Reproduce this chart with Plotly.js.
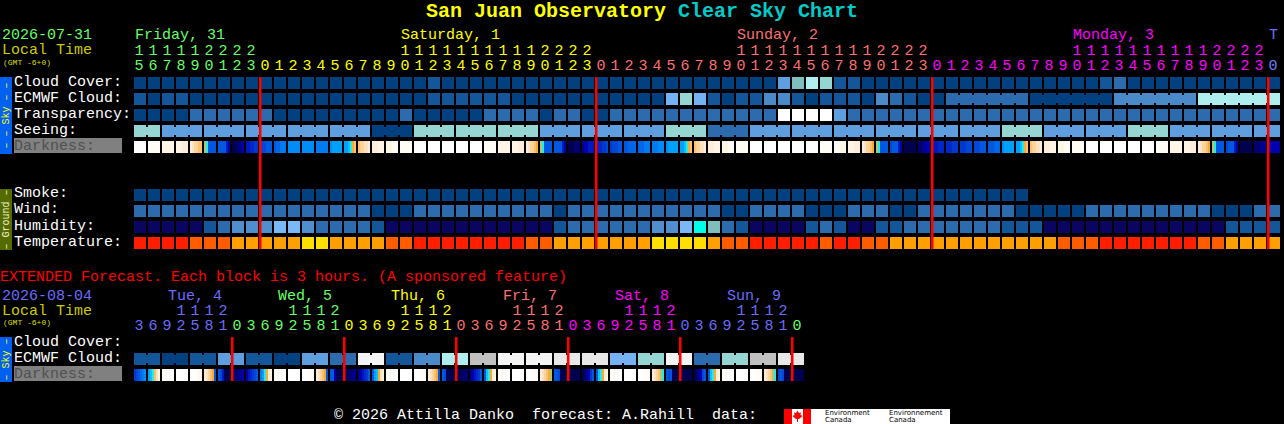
<!DOCTYPE html>
<html><head><meta charset="utf-8">
<script src="https://cdn.plot.ly/plotly-3.0.1.min.js"></script>
<style>html,body{margin:0;padding:0;background:#000;overflow:hidden}#chart{width:1284px;height:424px}</style>
</head><body><div id="chart"></div>
<script>
// ---- categories
const hours = [15,16,17,18,19,20,21,22,23,
  0,1,2,3,4,5,6,7,8,9,10,11,12,13,14,15,16,17,18,19,20,21,22,23,
  0,1,2,3,4,5,6,7,8,9,10,11,12,13,14,15,16,17,18,19,20,21,22,23,
  0,1,2,3,4,5,6,7,8,9,10,11,12,13,14,15,16,17,18,19,20,21,22,23,
  0];
const hourDayColor = [[9,'#66ff66'],[24,'#ffff00'],[24,'#ff7070'],[24,'#ff00ff'],[1,'#6c80ff']];
const extHours = [3,6,9,12,15,18,21,
  0,3,6,9,12,15,18,21, 0,3,6,9,12,15,18,21, 0,3,6,9,12,15,18,21,
  0,3,6,9,12,15,18,21, 0,3,6,9,12,15,18,21, 0];
const extDayColor = [[7,'#6c6cff'],[8,'#66ff66'],[8,'#ffff00'],[8,'#ff7070'],[8,'#ff00ff'],[8,'#6c6cff'],[1,'#66ff66']];
const midnights = [9,33,57,81];
const extMidnights = [7,15,23,31,39,47];

// ---- palettes
const skyColors = ['#03407f','#13569a','#2c6bad','#4a8ac9','#5f9fe0','#74b2f4','#80bdbd','#95d5d2','#aeeeee','#c0c0c0','#e8e8e8','#ffffff','#f4f4f4'];
const humidColors = ['#0a0560','#13569a','#2c6bad','#4f8fd0','#7ab8f8','#00ffe8','#80bdbd'];
const tempColors = ['#ff1e00','#ff5c00','#ffa000','#ffdf00'];
const darkColors = {W:'#ffffff',V:'#fffcf6',U:'#fff5e6',T:'#ffedd6',S:'#ffe3be',R:'#ffd49c',Q:'#ffc070',P:'#ffa830',
  G:'#a8c878',C:'#30e8e0',D:'#00c4ff',E:'#00a0ff',F:'#008cf8',H:'#007cf0',I:'#0068e8',J:'#0058e0',K:'#0048d8',
  L:'#0038d0',M:'#0028c8',N:'#0018c0',O:'#0000b0',X:'#000090',Y:'#000070',Z:'#000050'};

// ---- series values (one per hour column)
const cloudCover = [0,0,0,0,0,0,0,0,0,0, 0,0,0,0,0,0,0,0,0,0, 0,1,0,0,0,0,0,0,0,0, 0,0,0,0,0,0,0,0,0,0,
  0,0,0,0,0,0,4,6,8,7, 1,1,0,0,0,0,0,0,0,0, 0,0,0,0,0,0,0,0,0,1, 2,0,0,0,0,0,0,0,0,0,0,0];
const ecmwfCloud = [1,0,1,1,0,0,0,0,0,0, 0,0,0,0,0,0,0,0,0,0, 0,1,1,1,1,1,1,0,0,0, 0,0,0,0,0,0,0,0,5,7,
  5,1,0,1,1,3,3,1,0,1, 1,1,0,3,2,1,0,0,2,2, 2,2,2,2,0,0,0,0,0,0, 3,3,3,3,3,3,8,8,8,8,8,8];
const ecmwfBlocks = [[58,6],[64,6],[70,6],[76,6]];
const transparency = [0,0,0,0,2,2,2,2,2,2, 0,0,0,0,0,0,0,0,0,2, 0,0,0,0,0,2,2,2,2,0, 2,2,0,0,2,2,2,2,2,2,
  2,2,2,2,2,2,11,11,11,11, 4,2,2,2,2,2,2,2,2,2, 2,2,2,2,2,2,2,2,2,2, 2,2,2,2,2,2,2,2,2,2,2,2];
const seeingLengths = [2,3,3,3,3,3,3,3,3,3,3,3,3,3,3,3,3,3,3,3,3,3,3,3,3,3,3,2];
const seeing = [7,4,4,4,4,4,0,7,7,7,4,4,4,7,2,4,4,4,4,4,4,7,4,4,7,4,4,4];
const darkness = ['W','V','U','UUTT','TSRRQQ','GCJJJJ','JJJJNO','ZZYYXO','NNMMLL','KKKJJJ',
  'JIIHHH','F','F','H','FEEEEE','EEDCPQ','QRRSST','TU','UV','V',
  'W','W','W','W','W','V','U','UT','TSRRQP','GCJJJJ',
  'JJJJNO','ZZZYYY','XOONNN','NMMLLK','LKKKJJ','JJIIII','IH','HF','FEEEEE','EEDCPQ',
  'QRRSST','TU','UV','V','W','W','W','W','W','V',
  'VU','UT','TSRRQP','GCJJJJ','KJJJNO','Z','YYXXOO','NNNMMM','ML','LK',
  'KJ','JI','FEEEEE','EEDCPQ','QRRSST','TU','UV','V','W','W',
  'W','W','W','V','U','UT','TSRRQP','GCJJJJ','KJJJNO','Z','YYYXXX','O'];
const smoke = [0,0,0,0,0,0,0,0,0,0, 0,0,0,0,0,0,0,0,0,0, 0,0,0,0,0,0,0,0,0,0, 0,0,0,0,0,0,0,0,0,0,
  0,0,0,0,0,0,0,0,0,0, 0,0,0,0,0,0,0,0,0,0, 0,0,0,0];
const wind = [2,2,2,2,2,2,2,2,2,2, 2,2,2,2,2,2,2,0,0,0, 2,2,2,2,2,2,2,2,2,2, 0,2,2,2,2,2,2,2,2,2,
  2,2,0,0,2,2,2,2,0,0, 0,2,2,2,0,0,2,2,2,2, 2,2,2,0,0,0,0,0,2,2, 2,2,2,2,2,2,2,0,0,0,2,2];
const humidity = [0,0,0,0,0,1,2,3,3,3, 4,4,3,2,2,2,2,1,0,0, 0,0,0,0,0,0,0,0,0,0, 1,2,2,2,2,2,2,3,3,4,
  5,6,2,1,0,0,0,0,1,2, 1,0,0,1,1,2,2,2,2,2, 2,2,1,1,1,0,0,0,0,0, 0,0,0,0,0,0,0,0,1,1,1,1];
const temperature = [0,0,0,0,1,1,1,2,2,2, 2,2,3,3,2,2,2,2,1,1, 0,0,0,0,0,0,0,0,1,1, 2,2,2,2,2,2,2,3,3,3,
  3,2,1,1,0,0,0,0,0,1, 0,0,1,1,2,2,2,2,2,2, 2,2,2,2,2,2,1,1,1,0, 0,0,0,0,0,0,1,1,2,2,2,2];

// ---- extended forecast (one value per 6-hour pair / per 3-hour column)
const extEcmwf = [1,0,1,4,1,0,4,2,12,1,3,8,9,12,12,10,10,5,7,12,2,7,9,10];
const extDarkness = ['LKJIHF','EDCQSU','VWWW','W','WWVU','TSRQPJ','JKNZZZ','ZYYXXO',
  'ONMLKJ','HECPTU','VW','W','WV','TSRQPJ','JJOZZZ','ZZYYXX',
  'XONMLJ','JEDPST','VW','W','WV','TSRQPJ','JKZZZZ','ZZZYYY',
  'XONMLJ','JDCPTU','VW','W','WV','TSRQPG','JJKZZZ','Z',
  'ZYXOLJ','JDCPTU','VW','W','WV','TSRQGC','JKJZZZ','Z',
  'ZYXOKJ','JDCPTU','VW','W','WV','TSRQGC','KJKZZZ','Z'];

// ---- axes: 1 column = 14 px, 1 row = 16 px
const W = 1284, H = 424, PX = 14, PY = 16;
const xRange = [-140/PX, (W-140)/PX], yRange = [(H-83)/PY, -83/PY];
const cellW = 12/PX, cellH = 12/PY, gapH = 8/PY;
const ROW = {cloud:0,ecmwf:1,transp:2,seeing:3,dark:4,smoke:7,wind:8,humid:9,temp:10,
  extEcmwf:17.25,extDark:18.25,tens:-2,hrs:-1.0625,extTens:14.25,extHrs:15.1875};

const traces = [];
function bars(xs, widths, row, h, colors){
  traces.push({type:'bar',x:xs,y:xs.map(()=>h),base:xs.map(()=>row-h/2),width:widths,
    marker:{color:colors,line:{width:0}},hoverinfo:'skip',showlegend:false});
}
function cells(values,palette,row){
  bars(values.map((_,i)=>i),values.map(()=>cellW),row,cellH,values.map(v=>palette[v]));
}
function expand(lengths,values){ const o=[]; lengths.forEach((n,i)=>{for(let k=0;k<n;k++)o.push(values[i]);}); return o; }
function joins(blocks,values,palette,row){
  const xs=[],cs=[];
  blocks.forEach(([s,n])=>{for(let k=0;k<n-1;k++){xs.push(s+k+0.5);cs.push(palette[values[s+k]]);}});
  bars(xs,xs.map(()=>2/PX),row,gapH,cs);
}
function blocksOf(lengths){ let s=0; return lengths.map(n=>{const b=[s,n]; s+=n; return b;}); }
function slices(list,row){
  const xs=[],ws=[],cs=[];
  list.forEach((str,i)=>{ const n=str.length, w=cellW/n;
    for(let k=0;k<n;k++){xs.push(i-cellW/2+(k+.5)*w);ws.push(w);cs.push(darkColors[str[k]]);} });
  bars(xs,ws,row,cellH,cs);
}
function digits(hs,spec,rowTens,rowHrs){
  const colors=[]; spec.forEach(([n,c])=>{for(let k=0;k<n;k++)colors.push(c);});
  const shift=-1/PX;
  const font=(c)=>({family:'Liberation Mono',size:15,color:c});
  traces.push({type:'scatter',mode:'text',x:hs.map((_,i)=>i+shift),y:hs.map(()=>rowHrs),text:hs.map(h=>String(h%10)),
    textfont:font(colors),textposition:'middle center',cliponaxis:false,hoverinfo:'skip',showlegend:false});
  const idx=hs.map((h,i)=>h>=10?i:-1).filter(i=>i>=0);
  traces.push({type:'scatter',mode:'text',x:idx.map(i=>i+shift),y:idx.map(()=>rowTens),text:idx.map(i=>String(Math.floor(hs[i]/10))),
    textfont:font(idx.map(i=>colors[i])),textposition:'middle center',cliponaxis:false,hoverinfo:'skip',showlegend:false});
}
function redLines(cols,r0,r1){
  bars(cols.map(c=>c-cellW/2+0.2/PX),cols.map(()=>2.6/PX),(r0+r1)/2,r1-r0,cols.map(()=>'#ff0000'));
}

cells(cloudCover,skyColors,ROW.cloud);
cells(ecmwfCloud,skyColors,ROW.ecmwf); joins(ecmwfBlocks,ecmwfCloud,skyColors,ROW.ecmwf);
cells(transparency,skyColors,ROW.transp);
const seeingCols=expand(seeingLengths,seeing);
cells(seeingCols,skyColors,ROW.seeing); joins(blocksOf(seeingLengths),seeingCols,skyColors,ROW.seeing);
slices(darkness,ROW.dark);
cells(smoke,skyColors,ROW.smoke);
cells(wind,skyColors,ROW.wind);
cells(humidity,humidColors,ROW.humid);
cells(temperature,tempColors,ROW.temp);
const extCols=expand(extEcmwf.map(()=>2),extEcmwf);
cells(extCols,skyColors,ROW.extEcmwf); joins(blocksOf(extEcmwf.map(()=>2)),extCols,skyColors,ROW.extEcmwf);
slices(extDarkness,ROW.extDark);
redLines(midnights,ROW.cloud-cellH/2,ROW.temp+cellH/2);
redLines(extMidnights,(337-83)/PY,(381-83)/PY);
digits(hours,hourDayColor,ROW.tens,ROW.hrs);
digits(extHours,extDayColor,ROW.extTens,ROW.extHrs);

// ---- text and decoration, placed in pixels of the picture
const MONO='Liberation Mono';
const ann=[];
function label(text,x,y,color,size,extra){
  ann.push(Object.assign({xref:'paper',yref:'paper',x:x/W,y:1-y/H,text:text,showarrow:false,xanchor:'left',yanchor:'middle',
    borderpad:0,borderwidth:0,font:{family:MONO,size:size||15,color:color}},extra||{}));
}
const shapes=[];
function rect(x0,y0,x1,y1,c){shapes.push({type:'rect',xref:'paper',yref:'paper',x0:x0/W,x1:x1/W,y0:1-y0/H,y1:1-y1/H,fillcolor:c,line:{width:0},layer:'below'});}

label('<b>San Juan Observatory</b>',426,12,'#ffff00',20);
label('<b>Clear Sky Chart</b>',678,12,'#00cccc',20);
label('2026-07-31',2,36,'#66ff66');
label('Local Time',2,51,'#cccc00');
label('(GMT -6+0)',3,62,'#dddd00',8);
label('Friday, 31',134.5,36,'#66ff66');
label('Saturday, 1',400.5,36,'#ffff00');
label('Sunday, 2',736.5,36,'#ff7070');
label('Monday, 3',1072.5,36,'#ff00ff');
label('T',1268.5,36,'#6c6cff');

const rowNames=[['Cloud Cover:',82],['ECMWF Cloud:',98],['Transparency:',114],['Seeing:',130],
  ['Smoke:',194],['Wind:',210],['Humidity:',226],['Temperature:',242],['Cloud Cover:',342],['ECMWF Cloud:',358]];
rowNames.forEach(([t,y])=>label(t,14,y,'#ffffff'));
rect(14,138,122,153,'#808080'); label('Darkness:',14,146,'#505050');
rect(14,366,122,381,'#808080'); label('Darkness:',14,374,'#505050');

rect(0,77,12,154,'#0060f0');
rect(0,189,12,250,'#556b00');
rect(0,337,12,382,'#0060f0');
const side={textangle:-90,xanchor:'center',yanchor:'middle'};
label('\u2013\u00a0\u2013\u00a0Sky\u00a0\u2013\u00a0\u2013',6,115.5,'#ffff00',10,side);
label('\u2013\u00a0Ground\u00a0\u2013',6,219.5,'#f4f4c8',10,side);
label('\u2013\u00a0Sky\u00a0\u2013',6,359.5,'#ffff00',10,side);

label('EXTENDED Forecast. Each block is 3 hours. (A sponsored feature)',0,277,'#ff0000');
label('2026-08-04',2,296,'#6c6cff');
label('Local Time',2,311,'#cccc00');
label('(GMT -6+0)',3,322,'#dddd00',8);
[['Tue, 4',167.5,'#6c6cff'],['Wed, 5',278,'#66ff66'],['Thu, 6',390.5,'#ffff00'],['Fri, 7',502.5,'#ff7070'],
 ['Sat, 8',614.5,'#ff00ff'],['Sun, 9',726.5,'#6c6cff']].forEach(([t,x,c])=>label(t,x,296,c));

label('\u00a9 2026 Attilla Danko\u00a0\u00a0forecast: A.Rahill\u00a0\u00a0data:',333.5,415.5,'#ffffff');
rect(784,409,950,424,'#ffffff');
rect(784,409,792,424,'#ff0000');
rect(803,409,811,424,'#ff0000');
shapes.push({type:'path',xref:'paper',yref:'paper',layer:'below',fillcolor:'#ff0000',line:{width:0},
  path:[[797.5,410.5],[799,413],[801,412.5],[800.5,415],[802.5,416],[799,419],[798,419],[798,422],[797,422],[797,419],[796,419],[792.5,416],[794.5,415],[794,412.5],[796,413]]
    .map((p,i)=>(i?'L':'M')+(p[0]/W)+','+(1-p[1]/H)).join(' ')+' Z'});
const SANS='DejaVu Sans';
[['Environment',825,412.5],['Canada',825,419.5],['Environnement',889,412.5],['Canada',889,419.5]]
  .forEach(([t,x,y])=>label(t,x,y,'#000000',7,{font:{family:SANS,size:7,color:'#000000'}}));

Plotly.newPlot('chart',traces,{
  width:W,height:H,margin:{l:0,r:0,t:0,b:0,pad:0},paper_bgcolor:'#000000',plot_bgcolor:'#000000',
  barmode:'overlay',showlegend:false,
  xaxis:{range:xRange,visible:false,fixedrange:true},
  yaxis:{range:yRange,visible:false,fixedrange:true},
  annotations:ann,shapes:shapes
},{displayModeBar:false,staticPlot:true});
</script></body></html>
